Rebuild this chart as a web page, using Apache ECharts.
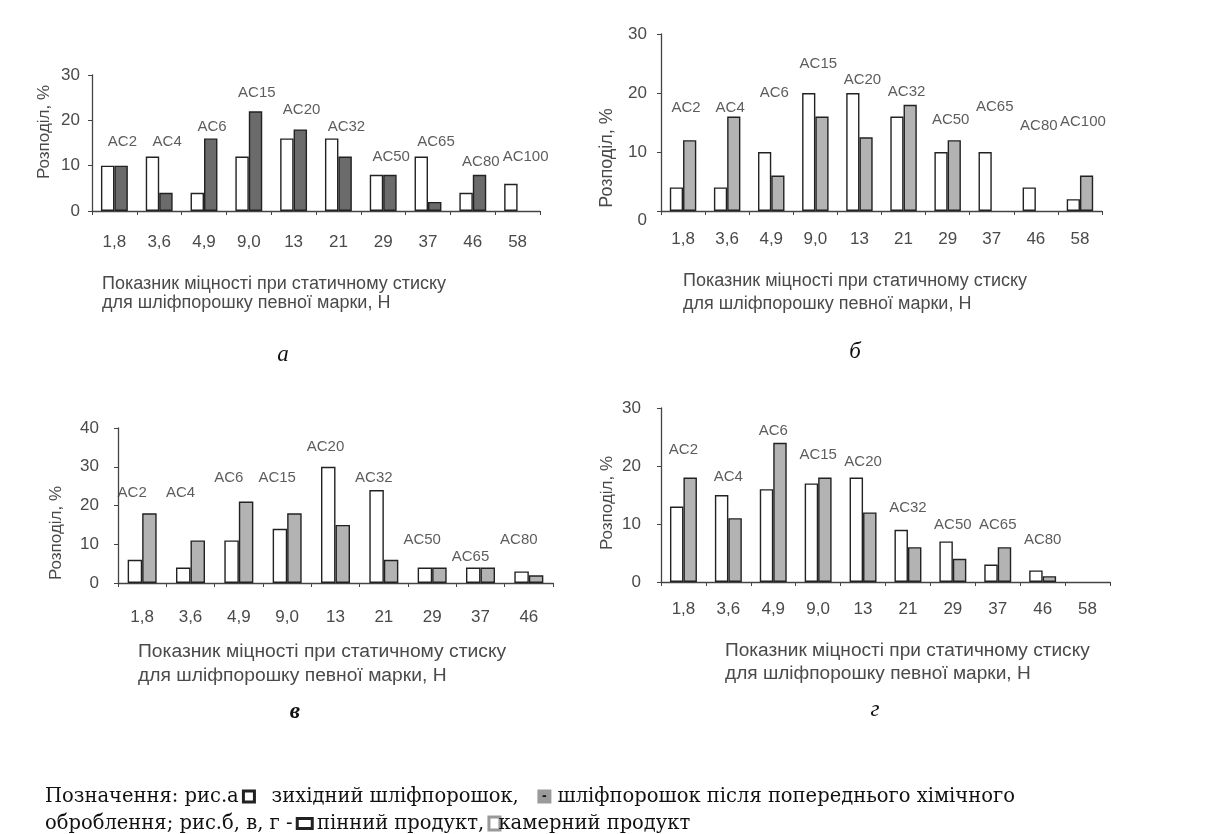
<!DOCTYPE html>
<html>
<head>
<meta charset="utf-8">
<script src="https://cdn.jsdelivr.net/npm/echarts@6/dist/echarts.min.js"></script>
<style>
html,body{margin:0;padding:0;background:#fff;}
#chart{width:1206px;height:834px;}
</style>
</head>
<body>
<div id="chart"></div>
<script>
// ---- data ----
const catsA = ['1,8','3,6','4,9','9,0','13','21','29','37','46','58'];
const whiteA = [10,12,4,12,16,16,8,12,4,6];
const darkA = [10,4,16,22,18,12,8,2,8,null];
const marksA = ['AC2','AC4','AC6','AC15','AC20','AC32','AC50','AC65','AC80','AC100'];
const levelsA = [15.2,15.2,18.6,26,22.3,18.6,11.9,15.2,10.8,11.9];

const catsB = ['1,8','3,6','4,9','9,0','13','21','29','37','46','58'];
const whiteB = [4,4,10,20,20,16,10,10,4,2];
const greyB = [12,16,6,16,12.5,18,12,null,null,6];
const marksB = ['AC2','AC4','AC6','AC15','AC20','AC32','AC50','AC65','AC80','AC100'];
const levelsB = [17.4,17.4,20,25,22.3,20.2,15.4,17.6,14.4,15.1];

const catsC = ['1,8','3,6','4,9','9,0','13','21','29','37','46'];
const whiteC = [6,4,11,14,30,24,4,4,3];
const greyC = [18,11,21,18,15,6,4,4,2];
const marksC = ['AC2','AC4','AC6','AC15','AC20','AC32','AC50','AC65','AC80'];
const levelsC = [23.2,23.2,27.1,27.1,35.2,27.1,11.1,6.7,11.1];

const catsD = ['1,8','3,6','4,9','9,0','13','21','29','37','46','58'];
const whiteD = [13,15,16,17,18,9,7,3,2,null];
const greyD = [18,11,24,18,12,6,4,6,1,null];
const marksD = ['AC2','AC4','AC6','AC15','AC20','AC32','AC50','AC65','AC80',''];
const levelsD = [22.8,18.2,26,21.9,20.8,12.8,9.9,9.9,7.3,null];

const yMaxA = 30, yMaxB = 30, yMaxC = 40, yMaxD = 30;
const yStep = 10;

const yName = 'Розподіл, %';
const xTitle = 'Показник міцності при статичному стиску\nдля шліфпорошку певної марки, Н';
const panelLetters = ['а', 'б', 'в', 'г'];
const noteLine1 = 'Позначення: рис.а {bw|}   зихідний шліфпорошок,   {gd|-} шліфпорошок після попереднього хімічного';
const noteLine2 = 'оброблення; рис.б, в, г - {bw2|} пінний продукт, {gb|}камерний продукт';

// ---- layout ----
const panels = [
  {cats:catsA, white:whiteA, grey:darkA, marks:marksA, levels:levelsA, yMax:yMaxA,
   grid:{left:92,top:75,width:448,height:136}, greyColor:'#6b6b6b', yMargin:12, xMargin:23, labDx:8, lowZero:false},
  {cats:catsB, white:whiteB, grey:greyB, marks:marksB, levels:levelsB, yMax:yMaxB,
   grid:{left:661,top:34,width:441,height:177}, greyColor:'#b3b3b3', yMargin:14, xMargin:20, labDx:3, lowZero:true},
  {cats:catsC, white:whiteC, grey:greyC, marks:marksC, levels:levelsC, yMax:yMaxC,
   grid:{left:118,top:428,width:435,height:155}, greyColor:'#b3b3b3', yMargin:19, xMargin:26, labDx:-10, lowZero:false},
  {cats:catsD, white:whiteD, grey:greyD, marks:marksD, levels:levelsD, yMax:yMaxD,
   grid:{left:661,top:408,width:449,height:174}, greyColor:'#b3b3b3', yMargin:20, xMargin:19, labDx:0, lowZero:false}
];

const FONT = 'Liberation Sans, Arial, sans-serif';
const SERIF = 'DejaVu Serif, serif';
const grids = [], xAxes = [], yAxes = [], series = [];
panels.forEach((p, i) => {
  grids.push(Object.assign({containLabel:false}, p.grid));
  xAxes.push({
    type:'category', gridIndex:i, data:p.cats,
    axisLine:{lineStyle:{color:'#444', width:1.3}},
    axisTick:{show:true, length:4, lineStyle:{color:'#444'}},
    axisLabel:{interval:0, fontSize:17, color:'#4a4a4a', fontFamily:FONT, margin:p.xMargin},
    splitLine:{show:false}
  });
  yAxes.push({
    type:'value', gridIndex:i, min:0, max:p.yMax, interval:yStep,
    axisLine:{show:true, lineStyle:{color:'#444', width:1.3}},
    axisTick:{show:true, length:4, lineStyle:{color:'#444'}},
    axisLabel:{fontSize:17, color:'#4a4a4a', fontFamily:FONT, margin:p.yMargin,
      formatter: p.lowZero ? (v => v === 0 ? '{low|0}' : String(v)) : undefined,
      rich:{low:{fontSize:17, color:'#4a4a4a', fontFamily:FONT, padding:[18,0,0,0]}}},
    splitLine:{show:false}
  });
  series.push({
    type:'bar', xAxisIndex:i, yAxisIndex:i, data:p.white, barWidth:'30%', barGap:'0%',
    itemStyle:{color:'#ffffff', borderColor:'#222', borderWidth:1.4}, silent:true
  });
  series.push({
    type:'bar', xAxisIndex:i, yAxisIndex:i, data:p.grey, barWidth:'30%', barGap:'0%',
    itemStyle:{color:p.greyColor, borderColor:'#222', borderWidth:1.4}, silent:true
  });
  const marks = p.marks;
  series.push({
    type:'scatter', xAxisIndex:i, yAxisIndex:i, data:p.levels, symbol:'circle', symbolSize:1, silent:true,
    itemStyle:{color:'rgba(0,0,0,0)'}, z:5,
    label:{show:true, position:'inside', offset:[p.labDx,0], fontSize:15, color:'#333', fontFamily:FONT,
      formatter: q => marks[q.dataIndex]}
  });
});

const titleStyle = {fontSize:18, fill:'#4a4a4a', fontFamily:FONT, align:'left', verticalAlign:'top'};
function yNameText(x, y, size) {
  return {type:'text', x:x, y:y, rotation:Math.PI/2,
    style:{text:yName, fontSize:size, fill:'#4a4a4a', fontFamily:FONT, align:'center', verticalAlign:'middle'}};
}
function letter(x, y, t, bold) {
  return {type:'text', x:x, y:y, style:{text:t, fontSize:23, fontStyle:'italic', fontWeight:bold?'bold':'normal',
    fill:'#111', fontFamily:'Liberation Serif, serif', align:'center', verticalAlign:'middle'}};
}
const graphics = [
  {type:'text', x:102, y:275, style:Object.assign({text:xTitle, lineHeight:19}, titleStyle)},
  {type:'text', x:683, y:270, style:Object.assign({text:xTitle, lineHeight:23}, titleStyle)},
  {type:'text', x:138, y:640, scaleX:1.07, style:Object.assign({text:xTitle, lineHeight:24}, titleStyle)},
  {type:'text', x:725, y:640, scaleX:1.06, style:Object.assign({text:xTitle, lineHeight:23}, titleStyle)},
  yNameText(44, 132, 17),
  yNameText(607, 158, 18),
  yNameText(56, 533, 17),
  yNameText(607, 503, 17),
  letter(283, 355, panelLetters[0], false),
  letter(855, 352, panelLetters[1], false),
  letter(295, 712, panelLetters[2], true),
  letter(875, 710, panelLetters[3], false),
  {type:'text', x:45, y:783, style:{
    text: noteLine1 + '\n' + noteLine2,
    fontSize:19.5, lineHeight:27, fill:'#111', fontFamily:SERIF, align:'left', verticalAlign:'top',
    rich:{
      bw:{width:8, height:8, backgroundColor:'#fff', borderColor:'#222', borderWidth:3},
      bw2:{width:12, height:7, backgroundColor:'#fff', borderColor:'#222', borderWidth:3},
      gd:{width:14, height:14, backgroundColor:'#9a9a9a', color:'#fff', align:'center', fontSize:14, lineHeight:14, fontWeight:'bold', fontFamily:FONT},
      gb:{width:8, height:10, backgroundColor:'#fff', borderColor:'#999', borderWidth:3}
    }
  }}
];

const chart = echarts.init(document.getElementById('chart'), null, {renderer:'canvas'});
chart.setOption({
  animation:false,
  backgroundColor:'#ffffff',
  textStyle:{fontFamily:FONT},
  grid:grids, xAxis:xAxes, yAxis:yAxes, series:series, graphic:graphics
});
</script>
</body>
</html>
